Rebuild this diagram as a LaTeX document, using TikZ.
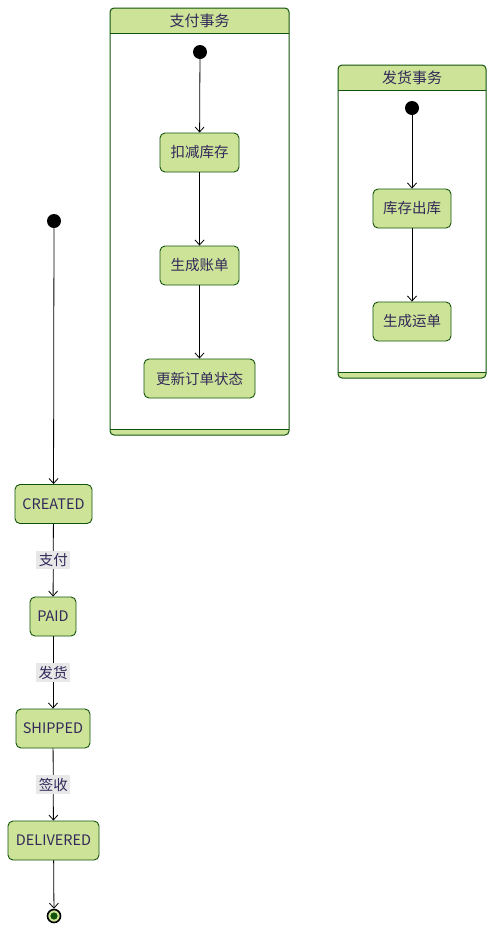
\documentclass[tikz,border=0pt]{standalone}
\usepackage{fontspec}
\setmainfont{Noto Sans CJK SC}
\usetikzlibrary{arrows.meta}
\definecolor{sfill}{HTML}{CDE498}
\definecolor{sline}{HTML}{13540C}
\definecolor{stext}{RGB}{50,40,90}
\definecolor{lbg}{HTML}{E8E8E8}
\begin{document}
\begin{tikzpicture}[x=1pt,y=-1pt,
  stbox/.style={draw=sline, fill=sfill, rounded corners=5pt, line width=0.9pt, text=stext,
    font=\fontsize{14.5}{16}\selectfont, minimum height=39pt, inner sep=0pt},
  initdot/.style={circle, fill=black, minimum size=14pt, inner sep=0pt},
  conn/.style={draw=black, line width=0.8pt, -{Straight Barb[length=5pt,width=9pt]}},
  lbl/.style={fill=lbg, text=stext, font=\fontsize{14.5}{16}\selectfont, inner sep=2.5pt},
  ttl/.style={text=stext, font=\fontsize{15}{16}\selectfont, inner sep=0pt},
  comp/.style={fill=sfill, rounded corners=4pt},
  compline/.style={draw=sline, line width=1pt, rounded corners=4pt}
]
\useasboundingbox[fill=white] (0,0) rectangle (502,946);

% composite 1
\fill[comp] (110,8) rectangle (289,435);
\fill[white] (110,33) rectangle (289,429);
\draw[compline] (110,8) rectangle (289,435);
\draw[sline, line width=1pt] (110,33) -- (289,33) (110,429) -- (289,429);
\node[ttl] (payT) at (199.5,21) {支付事务};
\node[initdot] (payI) at (200,52) {};
\node[stbox, minimum width=79pt] (kc) at (199.5,152.5) {扣减库存};
\node[stbox, minimum width=79pt] (zd) at (199.5,265.5) {生成账单};
\node[stbox, minimum width=111pt] (gx) at (199.5,378.5) {更新订单状态};
\draw[conn] (payI) -- (kc);
\draw[conn] (kc) -- (zd);
\draw[conn] (zd) -- (gx);

% composite 2
\fill[comp] (338,65) rectangle (486,378);
\fill[white] (338,90) rectangle (486,372);
\draw[compline] (338,65) rectangle (486,378);
\draw[sline, line width=1pt] (338,90) -- (486,90) (338,372) -- (486,372);
\node[ttl] (shipT) at (412,77.5) {发货事务};
\node[initdot] (shipI) at (412,108) {};
\node[stbox, minimum width=78pt] (ck) at (412,208.5) {库存出库};
\node[stbox, minimum width=78pt] (yd) at (412,321.5) {生成运单};
\draw[conn] (shipI) -- (ck);
\draw[conn] (ck) -- (yd);

% main flow
\node[initdot] (start) at (54,221) {};
\node[stbox, minimum width=77pt] (created) at (53.5,504) {CREATED};
\node[stbox, minimum width=46pt] (paid) at (53,616.5) {PAID};
\node[stbox, minimum width=74pt] (shipped) at (53,728.5) {SHIPPED};
\node[stbox, minimum width=91pt] (delivered) at (53.5,840.5) {DELIVERED};
\node[circle, draw=black, line width=1.6pt, fill=sfill, minimum size=13pt, inner sep=0pt] (end) at (54,916) {};
\fill[sline] (end.center) circle (3.6pt);

\draw[conn] (start) -- (created);
\draw[conn] (created) -- node[lbl] (l1) {支付} (paid);
\draw[conn] (paid) -- node[lbl] (l2) {发货} (shipped);
\draw[conn] (shipped) -- node[lbl] (l3) {签收} (delivered);
\draw[conn] (delivered) -- (end);
\end{tikzpicture}
\end{document}
